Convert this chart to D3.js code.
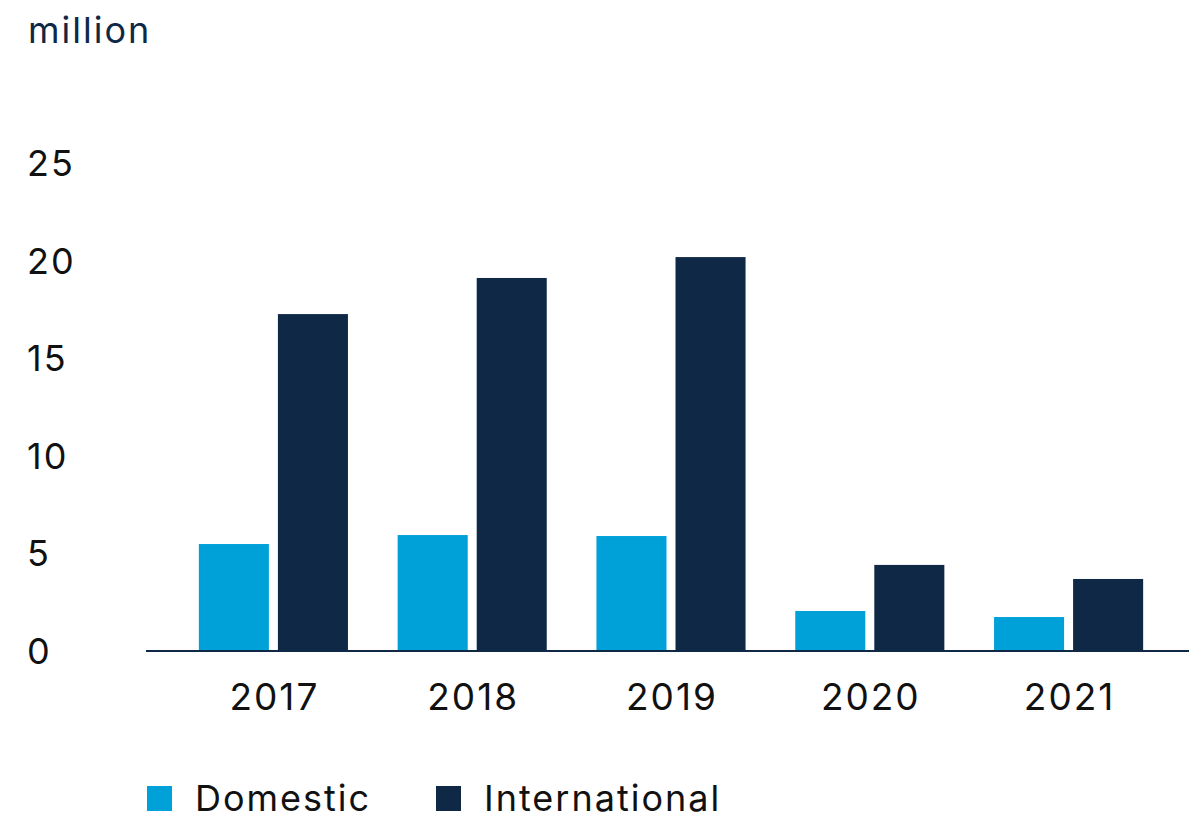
<!DOCTYPE html>
<html>
<head>
<meta charset="utf-8">
<script src="https://cdn.jsdelivr.net/npm/d3@7"></script>
<style>
  body { margin: 0; background: #fff; }
  text { font-family: Inter, "Noto Sans", sans-serif; font-weight: 400; letter-spacing: 2px; }
</style>
</head>
<body>
<div id="chart"></div>
<script>
const years = ["2017", "2018", "2019", "2020", "2021"];
const series = ["Domestic", "International"];
const domestic = [5.48, 5.94, 5.89, 2.05, 1.74];
const international = [17.26, 19.11, 20.18, 4.41, 3.69];
const yTicks = [0, 5, 10, 15, 20, 25];
const colors = ["#00a0d8", "#0e2846"];

function init() {
    const width = 1189;
    const height = 821;

    const svg = d3.select("#chart")
        .append("svg")
        .attr("width", width)
        .attr("height", height);

    const x0 = d3.scaleBand()
        .domain(years)
        .range([174, 1168])
        .paddingInner(0.25)
        .paddingOuter(0.125);

    const x1 = d3.scaleBand()
        .domain(series)
        .range([0, x0.bandwidth()])
        .paddingInner(0.114);

    const y = d3.scaleLinear()
        .domain([0, 25])
        .range([651, 163]);

    const color = d3.scaleOrdinal().domain(series).range(colors);

    const rows = years.map((yr, i) => ({
        year: yr,
        values: [
            { key: "Domestic", value: domestic[i] },
            { key: "International", value: international[i] }
        ]
    }));

    // unit label
    svg.append("text")
        .attr("x", 28)
        .attr("y", 43)
        .attr("font-size", 36)
        .attr("fill", "#0e2846")
        .text("million");

    // y tick labels
    svg.append("g")
        .selectAll("text")
        .data(yTicks)
        .join("text")
        .attr("x", 27)
        .attr("y", d => y(d))
        .attr("dy", "0.36em")
        .attr("font-size", 36)
        .attr("fill", "#111")
        .text(d => d);

    // bars
    const groups = svg.append("g")
        .selectAll("g")
        .data(rows)
        .join("g")
        .attr("transform", d => `translate(${x0(d.year)},0)`);

    groups.selectAll("rect")
        .data(d => d.values)
        .join("rect")
        .attr("x", d => x1(d.key))
        .attr("y", d => y(d.value))
        .attr("width", x1.bandwidth())
        .attr("height", d => y(0) - y(d.value))
        .attr("fill", d => color(d.key));

    // x axis
    const xAxis = svg.append("g")
        .attr("transform", `translate(0,${y(0)})`)
        .call(d3.axisBottom(x0).tickSize(0).tickPadding(33));
    xAxis.select(".domain").remove();
    xAxis.selectAll("text")
        .attr("font-size", 37)
        .attr("dx", 1)
        .attr("fill", "#111")
        .style("font-family", "Inter, 'Noto Sans', sans-serif");

    svg.append("line")
        .attr("x1", 146)
        .attr("x2", width)
        .attr("y1", y(0))
        .attr("y2", y(0))
        .attr("stroke", "#0e2846")
        .attr("stroke-width", 2);

    // legend
    const legendX = [147, 436];
    const legend = svg.append("g")
        .selectAll("g")
        .data(series)
        .join("g")
        .attr("transform", (d, i) => `translate(${legendX[i]},786)`);

    legend.append("rect")
        .attr("width", 25)
        .attr("height", 25)
        .attr("fill", d => color(d));

    legend.append("text")
        .attr("x", 48)
        .attr("y", 25)
        .attr("font-size", 36)
        .attr("fill", "#111")
        .text(d => d);
}

window.onload = init;
</script>
</body>
</html>
